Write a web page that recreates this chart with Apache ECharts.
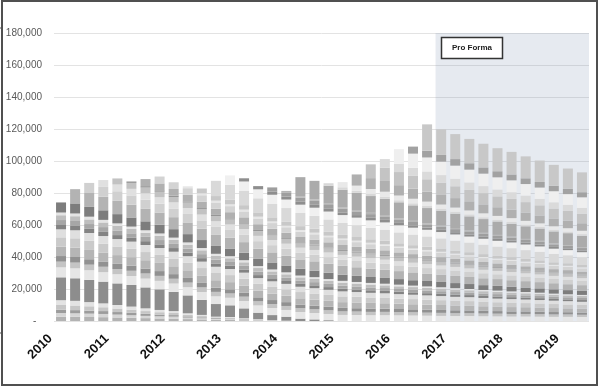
<!DOCTYPE html>
<html><head><meta charset="utf-8">
<script src="https://cdn.jsdelivr.net/npm/echarts/dist/echarts.min.js"></script>
<style>html,body{margin:0;padding:0;background:#fff}#c{width:600px;height:388px}</style>
</head><body><div id="c"></div>
<script>
// categories (quarters), values in thousands
const quarters = ['2010 Q1','2010 Q2','2010 Q3','2010 Q4','2011 Q1','2011 Q2','2011 Q3','2011 Q4',
  '2012 Q1','2012 Q2','2012 Q3','2012 Q4','2013 Q1','2013 Q2','2013 Q3','2013 Q4',
  '2014 Q1','2014 Q2','2014 Q3','2014 Q4','2015 Q1','2015 Q2','2015 Q3','2015 Q4',
  '2016 Q1','2016 Q2','2016 Q3','2016 Q4','2017 Q1','2017 Q2','2017 Q3','2017 Q4',
  '2018 Q1','2018 Q2','2018 Q3','2018 Q4','2019 Q1','2019 Q2'];
const yTicks = [0,20,40,60,80,100,120,140,160,180];
const proFormaLabel = 'Pro Forma';

// oldest vintages (bottom)
const b1 = [2.7,2.6,2.5,2.4,2.2,2.0,1.8,1.6,1.5,1.2, 1.0,0.8,0.7,0.5,0.4,0.2,0.1,0,0,0, 0,0,0,0,0,0,0,0,0,0, 0,0,0,0,0,0,0,0];
const b2 = [2.3,2.2,2.1,2.0,1.8,1.6,1.4,1.3,1.2,0.9, 0.7,0.5,0.5,0.4,0.3,0.2,0.1,0,0,0, 0,0,0,0,0,0,0,0,0,0, 0,0,0,0,0,0,0,0];
const b3 = [2.0,2.0,1.9,1.8,1.6,1.5,1.3,1.1,1.0,0.8, 0.6,0.5,0.4,0.3,0.2,0.1,0,0,0,0, 0,0,0,0,0,0,0,0,0,0, 0,0,0,0,0,0,0,0];
const b4 = [3.0,2.9,2.7,2.4,2.2,2.0,1.7,1.5,1.3,1.0, 0.8,0.5,0.5,0.3,0.2,0.1,0,0,0,0, 0,0,0,0,0,0,0,0,0,0, 0,0,0,0,0,0,0,0];
const b5 = [3.0,2.9,2.6,2.4,2.2,1.9,1.7,1.4,1.2,0.9, 0.7,0.4,0.4,0.2,0.1,0,0,0,0,0, 0,0,0,0,0,0,0,0,0,0, 0,0,0,0,0,0,0,0];
const d1 = [14.3,14.1,13.9,13.6,13.5,13.5,13.1,12.9,12.0,11.2, 9.4,7.9,7.3,6.2,4.0,3.1,2.5,1.5,1.0,0.5, 0,0,0,0,0,0,0,0,0,0, 0,0,0,0,0,0,0,0];
// vintages present at start
const a1 = [6.2,6.2,6.0,5.9,5.7,5.6,5.5,5.3,5.2,5.1, 4.9,4.8,4.7,4.6,4.5,4.4,4.2,4.1,4.0,3.9, 3.8,3.7,3.6,3.6,3.5,3.4,3.3,3.2,3.1,3.1, 3.0,2.9,2.8,2.8,2.7,2.6,2.6,2.5];
const a2 = [3.6,3.6,3.5,3.4,3.3,3.3,3.2,3.1,3.0,2.9, 2.9,2.8,2.7,2.7,2.6,2.5,2.5,2.4,2.3,2.3, 2.2,2.2,2.1,2.1,2.0,2.0,1.9,1.9,1.8,1.8, 1.7,1.7,1.6,1.6,1.6,1.5,1.5,1.4];
const a3 = [3.5,3.5,3.4,3.3,3.2,3.2,3.1,3.0,2.9,2.9, 2.8,2.7,2.6,2.6,2.5,2.5,2.4,2.3,2.3,2.2, 2.2,2.1,2.1,2.0,2.0,1.9,1.9,1.8,1.8,1.7, 1.7,1.6,1.6,1.6,1.5,1.5,1.4,1.4];
const a4 = [5.9,5.9,5.8,5.6,5.5,5.3,5.2,5.1,4.9,4.8, 4.7,4.6,4.5,4.4,4.2,4.1,4.0,3.9,3.8,3.7, 3.6,3.6,3.5,3.4,3.3,3.2,3.1,3.1,3.0,2.9, 2.8,2.8,2.7,2.6,2.6,2.5,2.4,2.4];
const a5 = [5.8,5.8,5.7,5.5,5.4,5.2,5.1,5.0,4.9,4.7, 4.6,4.5,4.4,4.3,4.2,4.1,4.0,3.9,3.8,3.7, 3.6,3.5,3.4,3.3,3.2,3.2,3.1,3.0,2.9,2.9, 2.8,2.7,2.7,2.6,2.5,2.5,2.4,2.3];
const a6 = [5.0,5.0,4.9,4.8,4.6,4.5,4.4,4.3,4.2,4.1, 4.0,3.9,3.8,3.7,3.6,3.5,3.4,3.3,3.3,3.2, 3.1,3.0,2.9,2.9,2.8,2.7,2.7,2.6,2.5,2.5, 2.4,2.3,2.3,2.2,2.2,2.1,2.1,2.0];
const a7 = [2.7,2.7,2.6,2.6,2.5,2.4,2.4,2.3,2.3,2.2, 2.2,2.1,2.0,2.0,1.9,1.9,1.8,1.8,1.8,1.7, 1.7,1.6,1.6,1.5,1.5,1.5,1.4,1.4,1.4,1.3, 1.3,1.3,1.2,1.2,1.2,1.1,1.1,1.1];
const a8 = [3.1,3.1,3.0,3.0,2.9,2.8,2.7,2.7,2.6,2.5, 2.5,2.4,2.4,2.3,2.2,2.2,2.1,2.1,2.0,2.0, 1.9,1.9,1.8,1.8,1.7,1.7,1.7,1.6,1.6,1.5, 1.5,1.5,1.4,1.4,1.4,1.3,1.3,1.3];
const a9 = [3.0,3.0,2.9,2.9,2.8,2.7,2.6,2.6,2.5,2.5, 2.4,2.3,2.3,2.2,2.2,2.1,2.1,2.0,2.0,1.9, 1.9,1.8,1.8,1.7,1.7,1.6,1.6,1.6,1.5,1.5, 1.4,1.4,1.4,1.3,1.3,1.3,1.2,1.2];
const a10 = [1.7,1.7,1.7,1.6,1.6,1.5,1.5,1.5,1.4,1.4, 1.4,1.3,1.3,1.3,1.2,1.2,1.2,1.1,1.1,1.1, 1.1,1.0,1.0,1.0,1.0,0.9,0.9,0.9,0.9,0.8, 0.8,0.8,0.8,0.8,0.7,0.7,0.7,0.7];
const a11 = [6.3,6.3,6.1,6.0,5.8,5.7,5.6,5.4,5.3,5.2, 5.0,4.9,4.8,4.7,4.5,4.4,4.3,4.2,4.1,4.0, 3.9,3.8,3.7,3.6,3.5,3.4,3.4,3.3,3.2,3.1, 3.0,3.0,2.9,2.8,2.7,2.7,2.6,2.5];
// new vintages added each quarter
const n2 = [0,8.9,8.7,8.5,8.3,8.0,7.8,7.7,7.5,7.3, 7.1,6.9,6.7,6.6,6.4,6.3,6.1,5.9,5.8,5.6, 5.5,5.4,5.2,5.1,5.0,4.9,4.7,4.6,4.5,4.4, 4.3,4.2,4.1,4.0,3.9,3.8,3.7,3.6];
const n3 = [0,0,6.3,6.1,6.0,5.8,5.7,5.6,5.4,5.3, 5.2,5.0,4.9,4.8,4.7,4.5,4.4,4.3,4.2,4.1, 4.0,3.9,3.8,3.7,3.6,3.5,3.4,3.4,3.3,3.2, 3.1,3.0,3.0,2.9,2.8,2.7,2.7,2.6];
const n4 = [0,0,0,4.3,4.2,4.1,4.0,3.9,3.8,3.7, 3.6,3.5,3.4,3.3,3.3,3.2,3.1,3.0,2.9,2.9, 2.8,2.7,2.7,2.6,2.5,2.5,2.4,2.3,2.3,2.2, 2.2,2.1,2.1,2.0,2.0,1.9,1.9,1.8];
const n5 = [0,0,0,0,3.8,3.7,3.6,3.5,3.4,3.4, 3.3,3.2,3.1,3.0,3.0,2.9,2.8,2.7,2.7,2.6, 2.5,2.5,2.4,2.4,2.3,2.2,2.2,2.1,2.1,2.0, 2.0,1.9,1.9,1.8,1.8,1.7,1.7,1.7];
const n6 = [0,0,0,0,0,0.9,0.9,0.9,0.8,0.8, 0.8,0.8,0.8,0.7,0.7,0.7,0.7,0.7,0.6,0.6, 0.6,0.6,0.6,0.6,0.5,0.5,0.5,0.5,0.5,0.5, 0.5,0.5,0.4,0.4,0.4,0.4,0.4,0.4];
const n7 = [0,0,0,0,0,0,4.4,4.3,4.2,4.1, 4.0,3.9,3.8,3.7,3.6,3.5,3.4,3.3,3.2,3.2, 3.1,3.0,2.9,2.9,2.8,2.7,2.7,2.6,2.5,2.5, 2.4,2.3,2.3,2.2,2.2,2.1,2.1,2.0];
const n8 = [0,0,0,0,0,0,0,4.3,4.2,4.1, 4.0,3.9,3.8,3.7,3.6,3.5,3.4,3.3,3.3,3.2, 3.1,3.0,2.9,2.9,2.8,2.7,2.7,2.6,2.5,2.5, 2.4,2.3,2.3,2.2,2.2,2.1,2.1,2.0];
const n10 = [0,0,0,0,0,0,0,0,0,1.2, 1.2,1.1,1.1,1.1,1.1,1.0,1.0,1.0,1.0,0.9, 0.9,0.9,0.9,0.8,0.8,0.8,0.8,0.8,0.7,0.7, 0.7,0.7,0.7,0.7,0.6,0.6,0.6,0.6];
const n11 = [0,0,0,0,0,0,0,0,0,0, 3.0,2.9,2.9,2.8,2.7,2.6,2.6,2.5,2.5,2.4, 2.3,2.3,2.2,2.2,2.1,2.1,2.0,2.0,1.9,1.9, 1.8,1.8,1.7,1.7,1.6,1.6,1.6,1.5];
const n12 = [0,0,0,0,0,0,0,0,0,0, 0,9.5,9.3,9.0,8.8,8.6,8.4,8.2,8.0,7.8, 7.6,7.4,7.2,7.0,6.8,6.7,6.5,6.3,6.2,6.0, 5.9,5.7,5.6,5.5,5.3,5.2,5.0,4.9];
const n13 = [0,0,0,0,0,0,0,0,0,0, 0,0,5.9,5.8,5.6,5.5,5.3,5.2,5.1,4.9, 4.8,4.7,4.6,4.5,4.4,4.2,4.1,4.0,3.9,3.8, 3.7,3.6,3.6,3.5,3.4,3.3,3.2,3.1];
const n14 = [0,0,0,0,0,0,0,0,0,0, 0,0,0,2.0,2.0,1.9,1.9,1.8,1.8,1.7, 1.7,1.6,1.6,1.6,1.5,1.5,1.4,1.4,1.4,1.3, 1.3,1.3,1.2,1.2,1.2,1.1,1.1,1.1];
const n16 = [0,0,0,0,0,0,0,0,0,0, 0,0,0,0,0,2.7,2.6,2.6,2.5,2.4, 2.4,2.3,2.3,2.2,2.2,2.1,2.0,2.0,1.9,1.9, 1.8,1.8,1.8,1.7,1.7,1.6,1.6,1.5];
const n17 = [0,0,0,0,0,0,0,0,0,0, 0,0,0,0,0,0,0.9,0.9,0.9,0.8, 0.8,0.8,0.8,0.8,0.7,0.7,0.7,0.7,0.7,0.6, 0.6,0.6,0.6,0.6,0.6,0.6,0.5,0.5];
const n18 = [0,0,0,0,0,0,0,0,0,0, 0,0,0,0,0,0,0,11.9,11.6,11.3, 11.0,10.8,10.5,10.2,10.0,9.7,9.5,9.2,9.0,8.8, 8.6,8.4,8.1,7.9,7.7,7.5,7.4,7.2];
const n20 = [0,0,0,0,0,0,0,0,0,0, 0,0,0,0,0,0,0,0,0,1.5, 1.5,1.4,1.4,1.4,1.3,1.3,1.3,1.2,1.2,1.2, 1.1,1.1,1.1,1.1,1.0,1.0,1.0,1.0];
const n21 = [0,0,0,0,0,0,0,0,0,0, 0,0,0,0,0,0,0,0,0,0, 3.2,3.1,3.0,3.0,2.9,2.8,2.7,2.7,2.6,2.5, 2.5,2.4,2.4,2.3,2.2,2.2,2.1,2.1];
const n22 = [0,0,0,0,0,0,0,0,0,0, 0,0,0,0,0,0,0,0,0,0, 0,7.0,6.8,6.7,6.5,6.3,6.2,6.0,5.9,5.7, 5.6,5.4,5.3,5.2,5.0,4.9,4.8,4.7];
const n23 = [0,0,0,0,0,0,0,0,0,0, 0,0,0,0,0,0,0,0,0,0, 0,0,8.6,8.4,8.2,8.0,7.8,7.6,7.4,7.2, 7.0,6.8,6.7,6.5,6.3,6.2,6.0,5.9];
const n24 = [0,0,0,0,0,0,0,0,0,0, 0,0,0,0,0,0,0,0,0,0, 0,0,0,5.3,5.2,5.0,4.9,4.8,4.7,4.6, 4.4,4.3,4.2,4.1,4.0,3.9,3.8,3.7];
const n25 = [0,0,0,0,0,0,0,0,0,0, 0,0,0,0,0,0,0,0,0,0, 0,0,0,0,9.1,8.9,8.7,8.4,8.2,8.0, 7.8,7.6,7.4,7.2,7.1,6.9,6.7,6.6];
const n26 = [0,0,0,0,0,0,0,0,0,0, 0,0,0,0,0,0,0,0,0,0, 0,0,0,0,0,4.4,4.3,4.2,4.1,4.0, 3.9,3.8,3.7,3.6,3.5,3.4,3.3,3.2];
const n27 = [0,0,0,0,0,0,0,0,0,0, 0,0,0,0,0,0,0,0,0,0, 0,0,0,0,0,0,16.4,16.0,15.6,15.2, 14.8,14.4,14.1,13.7,13.4,13.1,12.7,12.4];

const layers = [b1,b2,b3,b4,b5,d1,a1,a2,a3,a4,a5,a6,a7,a8,a9,a10,a11,
  n2,n3,n4,n5,n6,n7,n8,n10,n11,n12,n13,n14,n16,n17,n18,n20,n21,n22,n23,n24,n25,n26,n27];
const shades = ['#b3b3b3','#d6d6d6','#9c9c9c','#c6c6c6','#e3e3e3','#8d8d8d',
  '#e6e6e6','#c4c4c4','#919191','#b5b5b5','#cacaca','#dfdfdf','#838383','#a6a6a6','#bebebe','#e4e4e4','#7d7d7d',
  '#b3b3b3','#d0d0d0','#e0e0e0','#c2c2c2','#969696','#b0b0b0','#d3d3d3','#e6e6e6','#c8c8c8','#d9d9d9','#f0f0f0',
  '#8e8e8e','#9e9e9e','#b4b4b4','#ababab','#d8d8d8','#e9e9e9','#b0b0b0','#c4c4c4','#dadada','#efefef','#a2a2a2','#c8c8c8'];

const series = layers.map((d, i) => ({
  type: 'bar', stack: 'all', barWidth: 10, data: d,
  itemStyle: { color: shades[i] }, emphasis: { disabled: true }, silent: true
}));
// pro forma shading overlay
series.push({
  type: 'line', xAxisIndex: 1, yAxisIndex: 0, data: [[0, 0]], symbol: 'none',
  lineStyle: { opacity: 0 }, silent: true, z: 10,
  markArea: { silent: true, itemStyle: { color: 'rgba(130,150,180,0.2)' },
    data: [[{ xAxis: 27.1, yAxis: 0 }, { xAxis: 38, yAxis: 180 }]] }
});

const chart = echarts.init(document.getElementById('c'), null, { renderer: 'canvas' });
chart.setOption({
  animation: false,
  grid: { left: 54, right: 11, top: 33, bottom: 67 },
  xAxis: [{
    type: 'category', data: quarters,
    axisLine: { show: false }, axisTick: { show: false },
    axisLabel: {
      interval: 0, rotate: 45, margin: 5, padding: [0, 15, 0, 0],
      formatter: v => v.endsWith('Q1') ? v.slice(0, 4) : '',
      fontSize: 13, fontWeight: 'bold', color: '#111', fontFamily: 'Liberation Sans'
    }
  }, { type: 'value', min: 0, max: 38, show: false }],
  yAxis: {
    type: 'value', min: yTicks[0], max: yTicks[yTicks.length - 1], interval: 20,
    axisLine: { show: false }, axisTick: { show: false },
    splitLine: { lineStyle: { color: '#e3e3e3', width: 1 } },
    axisLabel: {
      margin: 12, fontSize: 10, color: '#595959', fontFamily: 'Liberation Sans',
      formatter: v => v === 0 ? '-  ' : (v * 1000).toLocaleString('en-US')
    }
  },
  series: series,
  graphic: [
    { type: 'rect', z: 100, shape: { x: 2, y: 1, width: 595, height: 384 },
      style: { fill: 'none', stroke: '#505050', lineWidth: 2 } },
    { type: 'line', z: 100, shape: { x1: 0, y1: 28, x2: 3, y2: 28 }, style: { stroke: '#505050', lineWidth: 1 } },
    { type: 'line', z: 100, shape: { x1: 0, y1: 333, x2: 3, y2: 333 }, style: { stroke: '#505050', lineWidth: 1 } },
    { type: 'rect', z: 100, shape: { x: 441.5, y: 37.5, width: 61, height: 21 },
      style: { fill: '#ffffff', stroke: '#333333', lineWidth: 1.5 } },
    { type: 'text', z: 101, x: 472, y: 48,
      style: { text: proFormaLabel, fill: '#222', font: 'bold 8px "Liberation Sans"', align: 'center', verticalAlign: 'middle' } }
  ]
});
</script>
</body></html>
